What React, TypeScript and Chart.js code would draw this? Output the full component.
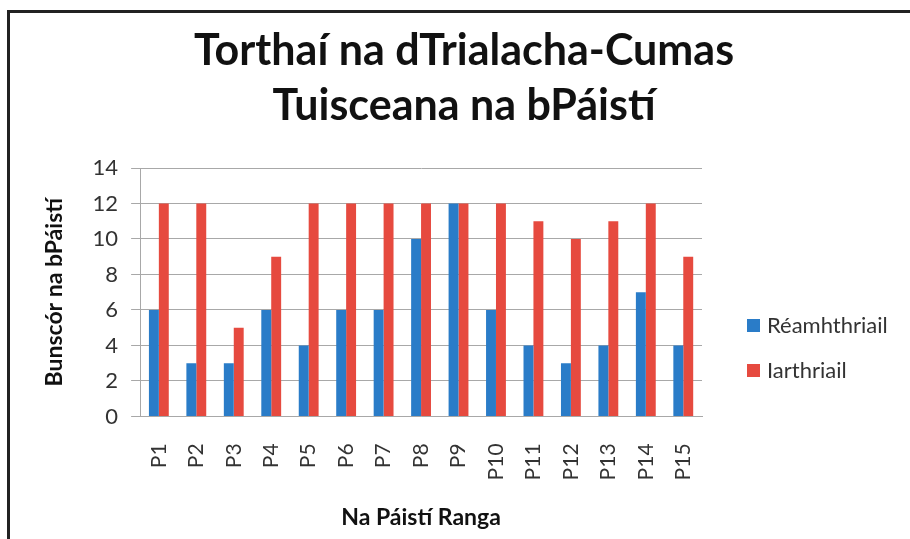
import React, { useEffect, useRef } from "react";
import { Chart, registerables } from "chart.js";

Chart.register(...registerables);

const categories = ["P1", "P2", "P3", "P4", "P5", "P6", "P7", "P8", "P9", "P10", "P11", "P12", "P13", "P14", "P15"];
const reamhthriail = [6, 3, 3, 6, 4, 6, 6, 10, 12, 6, 4, 3, 4, 7, 4];
const iarthriail = [12, 12, 5, 9, 12, 12, 12, 12, 12, 12, 11, 10, 11, 12, 9];
const seriesNames = ["Réamhthriail", "Iarthriail"];
const titleLines = ["Torthaí na dTrialacha-Cumas", "Tuisceana na bPáistí"];
const yTitle = "Bunscór na bPáistí";
const xTitle = "Na Páistí Ranga";

const BLUE = "#2a7cc8";
const RED = "#e64a3f";
const FONT = "Lato";

const centeredTitle = {
  id: "centeredTitle",
  afterDraw(chart: any) {
    const { ctx, width } = chart;
    ctx.save();
    ctx.font = `bold 43px ${FONT}`;
    ctx.fillStyle = "#111111";
    ctx.textAlign = "center";
    ctx.textBaseline = "middle";
    const cx = width / 2 + 4;
    titleLines.forEach((line, i) => {
      ctx.fillText(line, cx, 38 + i * 55);
    });
    ctx.restore();
  },
};

const sideLegend = {
  id: "sideLegend",
  afterDraw(chart: any) {
    const { ctx, chartArea } = chart;
    const x = chartArea.right + 45;
    const y0 = 312;
    const gap = 45;
    ctx.save();
    ctx.font = `22px ${FONT}`;
    ctx.textBaseline = "middle";
    ctx.textAlign = "left";
    chart.data.datasets.forEach((ds: any, i: number) => {
      const y = y0 + i * gap;
      ctx.fillStyle = ds.backgroundColor;
      ctx.fillRect(x, y - 6, 13, 13);
      ctx.fillStyle = "#333333";
      ctx.fillText(ds.label, x + 20, y + 1);
    });
    ctx.restore();
  },
};

export default function App() {
  const ref = useRef<HTMLCanvasElement>(null);
  useEffect(() => {
    if (!ref.current) return;
    const chart = new Chart(ref.current, {
      type: "bar",
      data: {
        labels: categories,
        datasets: [
          { label: seriesNames[0], data: reamhthriail, backgroundColor: BLUE, categoryPercentage: 0.53, barPercentage: 1 },
          { label: seriesNames[1], data: iarthriail, backgroundColor: RED, categoryPercentage: 0.53, barPercentage: 1 },
        ],
      },
      options: {
        animation: false,
        responsive: false,
        devicePixelRatio: 1,
        layout: { padding: { left: 31, right: 208, top: 155, bottom: 8 } },
        plugins: {
          legend: { display: false },
          tooltip: { enabled: false },
          title: { display: false },
        },
        scales: {
          x: {
            grid: { display: false },
            border: { display: true, color: "#a8a8a8", width: 1 },
            ticks: {
              color: "#333333",
              font: { family: FONT, size: 21 },
              minRotation: 90,
              maxRotation: 90,
              padding: 19,
              autoSkip: false,
            },
            title: {
              display: true,
              text: xTitle,
              color: "#111111",
              font: { family: FONT, size: 23, weight: "bold" },
              padding: { top: 4, bottom: 0 },
            },
          },
          y: {
            min: 0,
            max: 14,
            ticks: { stepSize: 2, color: "#333333", font: { family: FONT, size: 22 }, padding: 13 },
            grid: { color: "#a8a8a8", lineWidth: 1, tickLength: 9 },
            border: { display: true, color: "#a8a8a8", width: 1 },
            title: {
              display: true,
              text: yTitle,
              color: "#111111",
              font: { family: FONT, size: 23, weight: "bold" },
              padding: { top: 0, bottom: 11 },
            },
          },
        },
      },
      plugins: [centeredTitle, sideLegend],
    });
    return () => chart.destroy();
  }, []);

  return (
    <div style={{ position: "absolute", left: 0, top: 0, width: 910, height: 539, background: "#fff", overflow: "hidden" }}>
      <div
        style={{
          position: "absolute",
          left: 7,
          top: 10,
          width: 903,
          height: 529,
          borderTop: "3px solid #222",
          borderLeft: "3px solid #222",
          boxSizing: "border-box",
        }}
      >
        <canvas ref={ref} width={900} height={526} style={{ display: "block" }} />
      </div>
    </div>
  );
}
